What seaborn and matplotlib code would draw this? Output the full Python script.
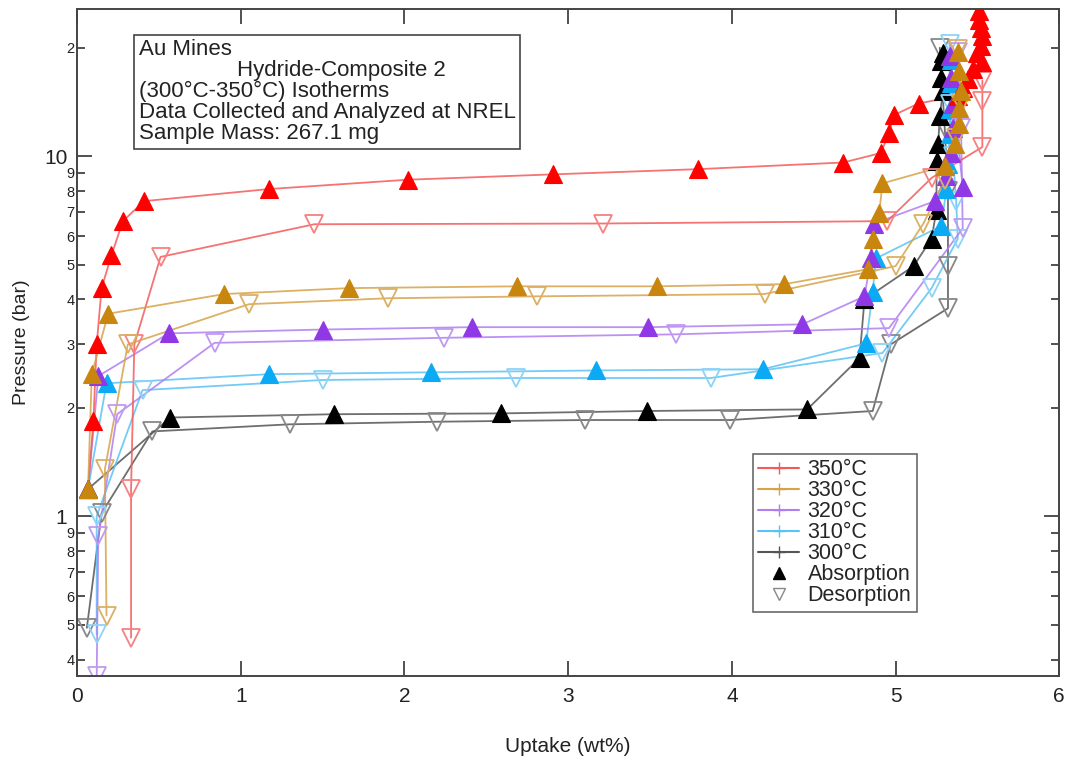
import matplotlib
matplotlib.use("Agg")
import matplotlib.pyplot as plt
from matplotlib.lines import Line2D
import seaborn as sns
import pandas as pd

# ---------------- data ----------------
temps = ["350°C", "330°C", "320°C", "310°C", "300°C"]

abs_350_x = [0.067, 0.10, 0.12, 0.15, 0.21, 0.28, 0.41, 1.17, 2.02, 2.91, 3.79, 4.68, 4.91, 4.96, 4.99, 5.14,
             5.38, 5.41, 5.44, 5.47, 5.53, 5.50, 5.52, 5.53, 5.52, 5.51, 5.51]
abs_350_y = [1.19, 1.84, 3.0, 4.3, 5.3, 6.6, 7.5, 8.1, 8.6, 8.9, 9.2, 9.6, 10.2, 11.6, 13.0, 14.0,
             14.7, 15.5, 16.4, 17.5, 18.2, 19.3, 20.2, 21.6, 22.7, 23.9, 25.3]
des_350_x = [5.53, 5.53, 5.53, 5.22, 4.95, 3.21, 1.45, 0.51, 0.35, 0.33, 0.33]
des_350_y = [16.2, 14.2, 10.6, 8.7, 6.6, 6.5, 6.47, 5.25, 3.0, 1.19, 0.46]

abs_330_x = [0.067, 0.09, 0.19, 0.90, 1.66, 2.69, 3.54, 4.32, 4.83, 4.86, 4.90, 4.92, 5.30, 5.36, 5.39,
             5.39, 5.40, 5.39, 5.38]
abs_330_y = [1.19, 2.48, 3.65, 4.14, 4.30, 4.35, 4.35, 4.41, 4.85, 5.9, 6.95, 8.4, 9.4, 10.8, 12.3,
             13.6, 15.2, 17.2, 19.5]
des_330_x = [5.38, 5.40, 5.37, 5.30, 5.17, 5.00, 4.20, 2.81, 1.90, 1.05, 0.31, 0.17, 0.18]
des_330_y = [19.8, 14.0, 11.2, 8.6, 6.5, 4.95, 4.14, 4.08, 4.03, 3.88, 3.0, 1.35, 0.53]

abs_320_x = [0.067, 0.13, 0.56, 1.50, 2.41, 3.49, 4.43, 4.81, 4.85, 4.87, 5.24, 5.31, 5.34, 5.35, 5.35,
             5.34, 5.33, 5.41]
abs_320_y = [1.19, 2.45, 3.22, 3.30, 3.35, 3.35, 3.41, 4.08, 5.2, 6.5, 7.5, 8.8, 10.2, 12.0, 14.0,
             16.5, 19.0, 8.2]
des_320_x = [5.38, 5.40, 5.41, 4.96, 3.66, 2.24, 0.84, 0.245, 0.13, 0.12]
des_320_y = [19.5, 12.0, 6.3, 3.33, 3.2, 3.13, 3.03, 1.92, 0.88, 0.36]

abs_310_x = [0.067, 0.18, 1.17, 2.16, 3.17, 4.19, 4.82, 4.86, 4.88, 5.28, 5.31, 5.32, 5.33, 5.33, 5.34, 5.34]
abs_310_y = [1.19, 2.34, 2.48, 2.51, 2.54, 2.56, 3.02, 4.2, 5.2, 6.4, 8.1, 9.5, 11.5, 13.5, 16.0, 18.5]
des_310_x = [5.33, 5.33, 5.35, 5.37, 5.38, 5.22, 4.92, 3.87, 2.68, 1.50, 0.40, 0.12, 0.12]
des_310_y = [20.5, 14.0, 10.0, 7.5, 5.9, 4.3, 2.84, 2.42, 2.42, 2.39, 2.24, 1.0, 0.47]

abs_300_x = [0.067, 0.57, 1.57, 2.59, 3.48, 4.46, 4.78, 4.81, 5.11, 5.22, 5.25, 5.25, 5.26, 5.27, 5.29,
             5.28, 5.28, 5.29]
abs_300_y = [1.19, 1.88, 1.92, 1.93, 1.96, 1.98, 2.75, 4.0, 4.95, 5.9, 7.1, 9.7, 10.8, 12.9, 15.2,
             16.5, 18.4, 19.3]
des_300_x = [5.27, 5.30, 5.32, 5.32, 5.32, 4.97, 4.86, 3.99, 3.10, 2.20, 1.30, 0.46, 0.15, 0.06]
des_300_y = [20.0, 12.0, 8.0, 4.95, 3.78, 3.0, 1.96, 1.85, 1.85, 1.83, 1.80, 1.72, 1.02, 0.49]

info_lines = ["Au Mines",
              "                Hydride-Composite 2",
              "(300°C-350°C) Isotherms",
              "Data Collected and Analyzed at NREL",
              "Sample Mass: 267.1 mg"]

y_major = [1, 10]
y_minor = [0.4, 0.5, 0.6, 0.7, 0.8, 0.9, 2, 3, 4, 5, 6, 7, 8, 9, 20]
x_ticks = [0, 1, 2, 3, 4, 5, 6]

# ---------------- style ----------------
marker_cols = {"350°C": "#ff0000", "330°C": "#c8860e", "320°C": "#9038e6",
               "310°C": "#0aaaf5", "300°C": "#000000"}
line_cols = {"350°C": "#f45a5a", "330°C": "#d6a24a", "320°C": "#b07ef0",
             "310°C": "#5cc2f5", "300°C": "#555555"}
open_cols = {"350°C": "#f78080", "330°C": "#dbb064", "320°C": "#c09af2",
             "310°C": "#8dd3f7", "300°C": "#888888"}

series = {
    "350°C": (abs_350_x, abs_350_y, des_350_x, des_350_y),
    "330°C": (abs_330_x, abs_330_y, des_330_x, des_330_y),
    "320°C": (abs_320_x, abs_320_y, des_320_x, des_320_y),
    "310°C": (abs_310_x, abs_310_y, des_310_x, des_310_y),
    "300°C": (abs_300_x, abs_300_y, des_300_x, des_300_y),
}

sns.set_theme(style="ticks")
plt.rcParams["font.family"] = ["Liberation Sans", "DejaVu Sans"]

fig = plt.figure(figsize=(10.7, 7.6), dpi=100)
ax = fig.add_axes([0.072, 0.1105, 0.918, 0.8775])
ax.set_yscale("log")

draw_order = ["300°C", "310°C", "320°C", "350°C", "330°C"]
for t in draw_order:
    ax_, ay_, dx_, dy_ = series[t]
    da = pd.DataFrame({"x": ax_, "y": ay_})
    dd = pd.DataFrame({"x": dx_, "y": dy_})
    sns.lineplot(data=dd, x="x", y="y", sort=False, estimator=None, ax=ax,
                 color=line_cols[t], lw=1.3, alpha=0.85)
    sns.lineplot(data=da, x="x", y="y", sort=False, estimator=None, ax=ax,
                 color=line_cols[t], lw=1.3, alpha=0.85)
for t in draw_order:
    ax_, ay_, dx_, dy_ = series[t]
    da = pd.DataFrame({"x": ax_, "y": ay_})
    dd = pd.DataFrame({"x": dx_, "y": dy_})
    sns.lineplot(data=dd, x="x", y="y", sort=False, estimator=None, ax=ax,
                 linestyle="none", marker="v", markersize=12.5,
                 markerfacecolor="none", markeredgecolor=open_cols[t], markeredgewidth=1.3)
    sns.lineplot(data=da, x="x", y="y", sort=False, estimator=None, ax=ax,
                 linestyle="none", marker="^", markersize=12.5,
                 markerfacecolor=marker_cols[t], markeredgecolor=marker_cols[t], markeredgewidth=0.8)

ax.set_xlim(0, 6)
ax.set_ylim(0.36, 25.6)

ax.set_xticks(x_ticks)
ax.set_xticklabels([str(v) for v in x_ticks], fontsize=15)
ax.set_yticks(y_major)
ax.set_yticklabels(["1", "10"], fontsize=15)
ax.set_yticks(y_minor, minor=True)
ax.set_yticklabels([str(v)[0] if v >= 1 else str(v)[2] for v in y_minor], minor=True, fontsize=10.5)
ax.xaxis.set_minor_locator(matplotlib.ticker.NullLocator())

ax.tick_params(axis="both", which="major", direction="in", length=11, width=1.2,
               top=True, right=True, colors="#333333", labelcolor="#222222")
ax.tick_params(axis="y", which="minor", direction="in", length=6, width=1.2,
               right=True, colors="#333333", labelcolor="#222222", pad=2)
ax.tick_params(axis="y", which="major", pad=7)
ax.tick_params(axis="x", which="major", pad=8)
for s in ax.spines.values():
    s.set_color("#444444")
    s.set_linewidth(1.4)

ax.set_xlabel("Uptake (wt%)", fontsize=15, labelpad=22, color="#222222")
ax.set_ylabel("Pressure (bar)", fontsize=14, labelpad=10, color="#222222")

ax.text(0.063, 0.955, "\n".join(info_lines), transform=ax.transAxes, fontsize=16,
        va="top", ha="left", linespacing=1.0, color="#222222",
        bbox=dict(boxstyle="square,pad=0.2", facecolor="white", edgecolor="#444444", linewidth=1.2))

handles = [Line2D([0], [0], color=line_cols[t], lw=1.5, marker="+", markersize=8,
                  markeredgecolor=line_cols[t]) for t in temps]
handles += [Line2D([0], [0], color="black", lw=0, marker="^", markersize=9),
            Line2D([0], [0], color="#888888", lw=0, marker="v", markersize=9,
                   markerfacecolor="none", markeredgecolor="#888888")]
labels = temps + ["Absorption", "Desorption"]
leg = ax.legend(handles, labels, loc="upper left", bbox_to_anchor=(0.688, 0.333),
                fontsize=15.5, frameon=True, fancybox=False, edgecolor="#444444",
                labelspacing=0.0, handlelength=1.9, handletextpad=0.4, borderpad=0.25,
                borderaxespad=0)
leg.get_frame().set_linewidth(1.2)

fig.savefig("out.png", dpi=100)
